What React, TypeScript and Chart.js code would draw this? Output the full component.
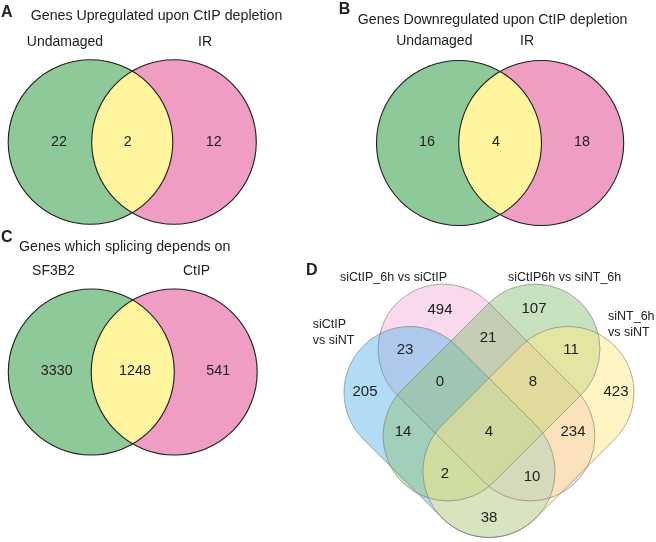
import React, { useEffect, useRef } from "react";
import { Chart, registerables } from "chart.js";

Chart.register(...registerables);

// ---------------- data ----------------
const panelLetters = ["A", "B", "C", "D"];

const titleA = "Genes Upregulated upon CtIP depletion";
const setsA = ["Undamaged", "IR"];
const countsA = [22, 2, 12]; // left only, both, right only

const titleB = "Genes Downregulated upon CtIP depletion";
const setsB = ["Undamaged", "IR"];
const countsB = [16, 4, 18];

const titleC = "Genes which splicing depends on";
const setsC = ["SF3B2", "CtIP"];
const countsC = [3330, 1248, 541];

// four-set panel (1 = siCtIP vs siNT, 2 = siCtIP_6h vs siCtIP, 3 = siCtIP6h vs siNT_6h, 4 = siNT_6h vs siNT)
const setsD = [["siCtIP", "vs siNT"], ["siCtIP_6h vs siCtIP"], ["siCtIP6h vs siNT_6h"], ["siNT_6h", "vs siNT"]];
const regionsD = ["1", "2", "3", "4", "12", "23", "34", "123", "234", "13", "1234", "24", "134", "124", "14"];
const countsD = [205, 494, 107, 423, 23, 21, 11, 0, 8, 14, 4, 234, 2, 10, 38];

// ---------------- layout (positions in page units) ----------------
const W = 656;
const H = 542;

const TWO = [
  {
    letter: [1, 13], title: [30.7, 16], setLabels: [[65, 41.7], [205, 41.7]],
    centers: [[90.5, 142], [174, 142]], r: 82.3,
    nums: [[59, 142], [127.7, 142], [213.7, 142]],
  },
  {
    letter: [338.7, 10], title: [357.7, 20], setLabels: [[434.3, 40.7], [527, 40.7]],
    centers: [[459, 143], [541.2, 143]], r: 82.5,
    nums: [[427, 142.3], [496, 142.3], [582, 142.3]],
  },
  {
    letter: [1, 238], title: [19, 247], setLabels: [[53.5, 270.7], [196.5, 270.7]],
    centers: [[91.3, 372], [174.2, 372]], r: 83,
    nums: [[56.7, 370.7], [135, 370.7], [218.3, 370.7]],
  },
];

const FOUR = {
  letter: [306, 270.5],
  labelPos: [[312.7, 325], [340, 278], [508, 278], [608, 317]],
  lineGap: 16,
  capsules: [
    { p1: [410, 392.5], p2: [489, 471.5], r: 66 },
    { p1: [443, 349], p2: [530, 436], r: 65 },
    { p1: [535, 349], p2: [448, 436], r: 65 },
    { p1: [568, 392.5], p2: [489, 471.5], r: 66 },
  ],
  nums: {
    "1": [365, 392], "2": [440, 310], "3": [534, 309], "4": [616, 392],
    "12": [405, 350], "23": [488, 338], "34": [571, 350],
    "123": [440, 382], "234": [533, 382],
    "13": [403, 432], "1234": [489, 432], "24": [573, 432],
    "134": [445, 474], "124": [532, 477], "14": [489, 518],
  } as Record<string, number[]>,
};

// ---------------- styles ----------------
const FONT = "'Liberation Sans', Arial, Helvetica, sans-serif";
const TEXT = "#222";
const GREEN = "rgb(142,201,153)";
const PINK = "rgb(240,157,196)";
const YELLOW = "rgb(255,245,158)";
const D_FILLS = [
  "rgba(101,185,235,0.5)",
  "rgba(241,181,217,0.5)",
  "rgba(145,195,125,0.5)",
  "rgba(255,236,138,0.5)",
];
const D_ORDER = [1, 0, 2, 3];

function capsulePath(ctx: CanvasRenderingContext2D, x1: number, y1: number, x2: number, y2: number, r: number) {
  const a = Math.atan2(y2 - y1, x2 - x1);
  ctx.beginPath();
  ctx.arc(x2, y2, r, a - Math.PI / 2, a + Math.PI / 2);
  ctx.arc(x1, y1, r, a + Math.PI / 2, a + (3 * Math.PI) / 2);
  ctx.closePath();
}

const vennPlugin = {
  id: "vennPlugin",
  beforeDatasetsDraw(chart: any) {
    const { ctx, scales } = chart;
    const xs = scales.x;
    const ys = scales.y;
    const px = (v: number) => xs.getPixelForValue(v);
    const py = (v: number) => ys.getPixelForValue(v);
    const pr = (r: number) => Math.abs(xs.getPixelForValue(r) - xs.getPixelForValue(0));

    ctx.save();
    // two-set panels
    TWO.forEach((p) => {
      const [c1, c2] = p.centers;
      const r = pr(p.r);
      const circ = (c: number[]) => {
        ctx.beginPath();
        ctx.arc(px(c[0]), py(c[1]), r, 0, Math.PI * 2);
      };
      circ(c1);
      ctx.fillStyle = GREEN;
      ctx.fill();
      circ(c2);
      ctx.fillStyle = PINK;
      ctx.fill();
      ctx.save();
      circ(c1);
      ctx.clip();
      circ(c2);
      ctx.fillStyle = YELLOW;
      ctx.fill();
      ctx.restore();
      ctx.lineWidth = 1.1;
      ctx.strokeStyle = "#1e1e1e";
      circ(c1);
      ctx.stroke();
      circ(c2);
      ctx.stroke();
    });

    // four-set panel
    D_ORDER.forEach((i) => {
      const c = FOUR.capsules[i];
      capsulePath(ctx, px(c.p1[0]), py(c.p1[1]), px(c.p2[0]), py(c.p2[1]), pr(c.r));
      ctx.fillStyle = D_FILLS[i];
      ctx.fill();
    });
    FOUR.capsules.forEach((c) => {
      capsulePath(ctx, px(c.p1[0]), py(c.p1[1]), px(c.p2[0]), py(c.p2[1]), pr(c.r));
      ctx.strokeStyle = "rgba(110,110,110,0.55)";
      ctx.lineWidth = 1;
      ctx.stroke();
    });
    ctx.restore();
  },
  afterDatasetsDraw(chart: any) {
    const { ctx, scales } = chart;
    const px = (v: number) => scales.x.getPixelForValue(v);
    const py = (v: number) => scales.y.getPixelForValue(v);
    ctx.save();
    ctx.fillStyle = TEXT;
    ctx.textBaseline = "middle";

    // counts, drawn at the positions of the scatter points
    chart.data.datasets.forEach((ds: any, di: number) => {
      const meta = chart.getDatasetMeta(di);
      ctx.font = ds.numFont;
      ctx.textAlign = "center";
      meta.data.forEach((el: any, j: number) => {
        ctx.fillText(String(ds.data[j].v), el.x, el.y);
      });
    });

    // panel letters
    ctx.textAlign = "left";
    ctx.font = `bold 16px ${FONT}`;
    TWO.forEach((p, i) => ctx.fillText(panelLetters[i], px(p.letter[0]), py(p.letter[1])));
    ctx.fillText(panelLetters[3], px(FOUR.letter[0]), py(FOUR.letter[1]));

    // titles & set labels
    const titles = [titleA, titleB, titleC];
    const sets = [setsA, setsB, setsC];
    TWO.forEach((p, i) => {
      ctx.font = `14.2px ${FONT}`;
      ctx.textAlign = "left";
      ctx.fillText(titles[i], px(p.title[0]), py(p.title[1]));
      ctx.textAlign = "center";
      ctx.font = `14px ${FONT}`;
      sets[i].forEach((s, k) => ctx.fillText(s, px(p.setLabels[k][0]), py(p.setLabels[k][1])));
    });

    ctx.font = `12.5px ${FONT}`;
    ctx.textAlign = "left";
    setsD.forEach((lines, i) => {
      const [x, y] = FOUR.labelPos[i];
      lines.forEach((ln, k) => ctx.fillText(ln, px(x), py(y + k * FOUR.lineGap)));
    });
    ctx.restore();
  },
};

export default function App() {
  const ref = useRef<HTMLCanvasElement | null>(null);

  useEffect(() => {
    if (!ref.current) return;
    const twoCounts = [countsA, countsB, countsC];
    const datasets: any[] = TWO.map((p, i) => ({
      label: panelLetters[i],
      data: twoCounts[i].map((v, k) => ({ x: p.nums[k][0], y: p.nums[k][1], v })),
      pointRadius: 0,
      numFont: `14.3px ${FONT}`,
    }));
    datasets.push({
      label: panelLetters[3],
      data: regionsD.map((r, k) => ({ x: FOUR.nums[r][0], y: FOUR.nums[r][1], v: countsD[k] })),
      pointRadius: 0,
      numFont: `15px ${FONT}`,
    });

    const chart = new Chart(ref.current, {
      type: "scatter",
      data: { datasets },
      options: {
        animation: false,
        responsive: false,
        devicePixelRatio: 1,
        layout: { padding: 0 },
        events: [],
        scales: {
          x: { type: "linear", min: 0, max: W, display: false },
          y: { type: "linear", min: 0, max: H, reverse: true, display: false },
        },
        plugins: { legend: { display: false }, tooltip: { enabled: false }, title: { display: false } },
      },
      plugins: [vennPlugin as any],
    } as any);
    return () => chart.destroy();
  }, []);

  return (
    <div style={{ position: "absolute", left: 0, top: 0, width: W, height: H, background: "#fff" }}>
      <canvas ref={ref} width={W} height={H} style={{ display: "block", width: W, height: H }} />
    </div>
  );
}
